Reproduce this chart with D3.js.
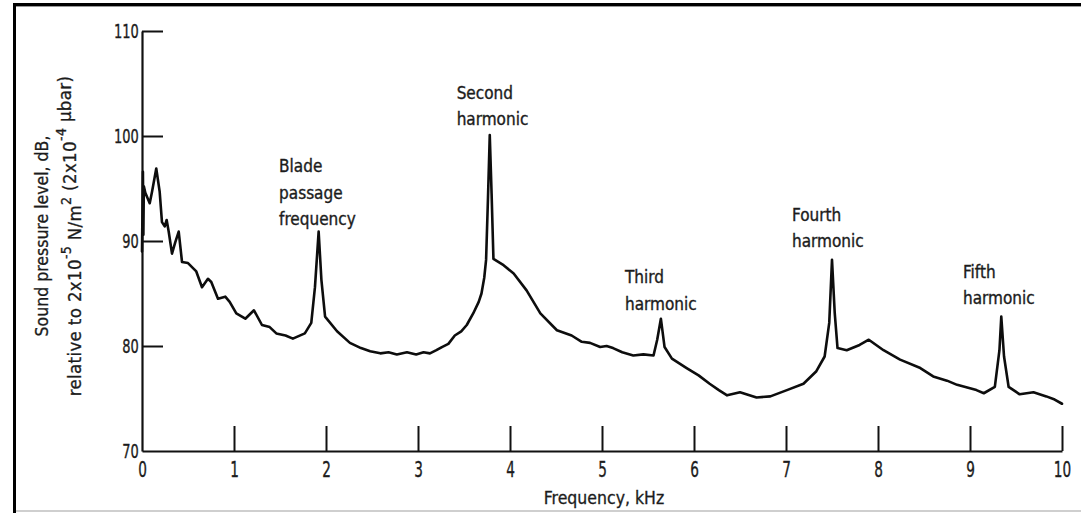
<!DOCTYPE html>
<html>
<head>
<meta charset="utf-8">
<script src="https://cdn.jsdelivr.net/npm/d3@7"></script>
<style>
  html, body { margin: 0; padding: 0; background: #fff; }
  svg { display: block; }
  text { font-family: "DejaVu Sans Condensed", "DejaVu Sans", sans-serif; font-stretch: condensed; fill: #1c1c1c; }
</style>
</head>
<body>
<svg id="chart" width="1081" height="513"></svg>
<script>
// ---- data ----
const freqKHz = [0.00,0.01,0.015,0.02,0.036,0.084,0.109,0.155,0.192,0.217,0.247,0.268,0.29,0.326,0.362,0.399,0.435,0.50,0.59,0.652,
  0.717,0.753,0.826,0.905,0.953,1.025,1.123,1.217,1.304,1.388,1.46,1.56,1.64,1.77,1.84,1.88,1.92,1.95,1.99,2.12,
  2.26,2.38,2.48,2.59,2.68,2.77,2.88,2.98,3.06,3.13,3.20,3.26,3.33,3.40,3.47,3.53,3.60,3.66,3.69,3.72,
  3.74,3.76,3.78,3.80,3.82,3.93,4.04,4.18,4.33,4.51,4.67,4.78,4.87,4.98,5.05,5.12,5.22,5.34,5.45,5.56,
  5.60,5.64,5.68,5.76,5.92,6.05,6.17,6.27,6.36,6.50,6.68,6.83,7.01,7.19,7.33,7.42,7.47,7.50,7.53,7.56,
  7.66,7.80,7.90,8.06,8.24,8.46,8.60,8.75,8.86,9.07,9.15,9.27,9.32,9.34,9.37,9.42,9.54,9.69,9.83,9.92,10.0];
const splDB = [89.0,96.6,90.6,95.2,94.6,93.6,94.7,96.9,94.7,91.8,91.4,92.0,90.9,88.8,89.9,90.9,88.0,87.9,87.1,85.6,
  86.4,86.1,84.5,84.7,84.2,83.1,82.6,83.4,82.0,81.8,81.2,81.0,80.7,81.2,82.2,85.6,90.9,86.3,82.8,81.4,
  80.3,79.8,79.5,79.3,79.4,79.2,79.4,79.2,79.4,79.3,79.6,79.9,80.2,81.0,81.4,82.0,83.1,84.2,85.0,86.5,
  88.2,93.9,100.1,94.5,88.3,87.7,86.9,85.3,83.1,81.5,81.0,80.4,80.3,79.9,80.0,79.8,79.4,79.1,79.2,79.1,
  80.6,82.6,79.9,78.8,77.9,77.2,76.4,75.8,75.3,75.6,75.1,75.2,75.8,76.4,77.6,79.0,82.2,88.2,83.1,79.8,
  79.6,80.1,80.6,79.6,78.7,77.9,77.1,76.7,76.3,75.8,75.5,76.1,79.6,82.8,79.0,76.1,75.4,75.6,75.2,74.9,74.5];

const xTicks = [0,1,2,3,4,5,6,7,8,9,10];
const yTicks = [70,80,90,100,110];

const annotationLines = [["Blade","passage","frequency"],["Second","harmonic"],["Third","harmonic"],["Fourth","harmonic"],["Fifth","harmonic"]];
const annotationKHz = [1.49, 3.42, 5.25, 7.065, 8.924];
const annotationDB = [97.14, 104.1, 86.57, 92.48, 87.05];

const xTitle = "Frequency, kHz";
const yTitle1 = "Sound pressure level, dB,";

// ---- drawing ----
const svg = d3.select("#chart");

// frame
svg.append("rect").attr("x",13).attr("y",3).attr("width",1068).attr("height",3).attr("fill","#000");
svg.append("rect").attr("x",13).attr("y",3).attr("width",3).attr("height",510).attr("fill","#000");
svg.append("rect").attr("x",16).attr("y",6).attr("width",1065).attr("height",1).attr("fill","#999");
svg.append("rect").attr("x",16).attr("y",510).attr("width",1065).attr("height",2).attr("fill","#cfcfcf");

const x = d3.scaleLinear().domain([0,10]).range([142,1062]);
const y = d3.scaleLinear().domain([70,110]).range([451,31]);

const xAxis = d3.axisBottom(x).tickValues(xTicks).tickFormat(d3.format("d"))
  .tickSizeInner(-25).tickSizeOuter(0).tickPadding(11);
const gx = svg.append("g").attr("transform", `translate(0,${y(70)})`).call(xAxis);
gx.selectAll("text").attr("font-size", 20.5).attr("fill", "#1c1c1c")
  .attr("stroke", "#1c1c1c").attr("stroke-width", 0.35)
  .attr("transform", "scale(0.74,1)");

const yAxis = d3.axisLeft(y).tickValues(yTicks).tickFormat(d3.format("d"))
  .tickSizeInner(-21).tickSizeOuter(0).tickPadding(3);
const gy = svg.append("g").attr("transform", `translate(${x(0)},0)`).call(yAxis);
gy.selectAll("text").attr("font-size", 19.5).attr("fill", "#1c1c1c")
  .attr("stroke", "#1c1c1c").attr("stroke-width", 0.35)
  .attr("x", -4.5).attr("transform", "scale(0.74,1)");

svg.selectAll(".domain").attr("stroke", "#111").attr("stroke-width", 2.2);
svg.selectAll(".tick line").attr("stroke", "#111").attr("stroke-width", 2);
gx.select(".tick line").remove();
gy.selectAll(".tick").filter(d => d === 70).select("line").remove();

// curve
const pts = freqKHz.map((f,i) => [f, splDB[i]]);
const line = d3.line().x(d => x(d[0])).y(d => y(d[1]));
svg.append("path").datum(pts).attr("d", line)
  .attr("fill","none").attr("stroke","#0d0d0d").attr("stroke-width",2.6)
  .attr("stroke-linejoin","round").attr("stroke-linecap","round");

// annotations
annotationLines.forEach((lines, i) => {
  const t = svg.append("text").attr("font-size", 17)
    .attr("stroke", "#1c1c1c").attr("stroke-width", 0.35)
    .attr("x", x(annotationKHz[i])).attr("y", y(annotationDB[i]))
    .attr("dominant-baseline","central");
  lines.forEach((s, j) => {
    t.append("tspan").attr("x", x(annotationKHz[i])).attr("dy", j === 0 ? 0 : 26.5).text(s);
  });
});

// x title
svg.append("text").attr("x", 604).attr("y", 498).attr("text-anchor","middle")
  .attr("dominant-baseline","central").attr("font-size", 17.5)
  .attr("stroke", "#1c1c1c").attr("stroke-width", 0.3).text(xTitle);

// y title
const yt = svg.append("g").attr("transform","translate(42,236) rotate(-90)");
yt.append("text").attr("text-anchor","middle").attr("dominant-baseline","central")
  .attr("font-size", 17.5).attr("stroke", "#1c1c1c").attr("stroke-width", 0.3).text(yTitle1);
const t2 = yt.append("text").attr("y", 32).attr("text-anchor","middle").attr("dominant-baseline","central")
  .attr("font-size", 18.5).attr("letter-spacing", 0.35).attr("stroke", "#1c1c1c").attr("stroke-width", 0.3);
t2.append("tspan").text("relative to 2x10");
t2.append("tspan").attr("font-size", 14).attr("dy", -8).text("-5");
t2.append("tspan").attr("dy", 8).text(" N/m");
t2.append("tspan").attr("font-size", 14).attr("dy", -8).text("2");
t2.append("tspan").attr("dy", 3).text(" (2x10");
t2.append("tspan").attr("font-size", 14).attr("dy", -8).text("-4");
t2.append("tspan").attr("dy", 3).text(" \u03bcbar)");
</script>
</body>
</html>
